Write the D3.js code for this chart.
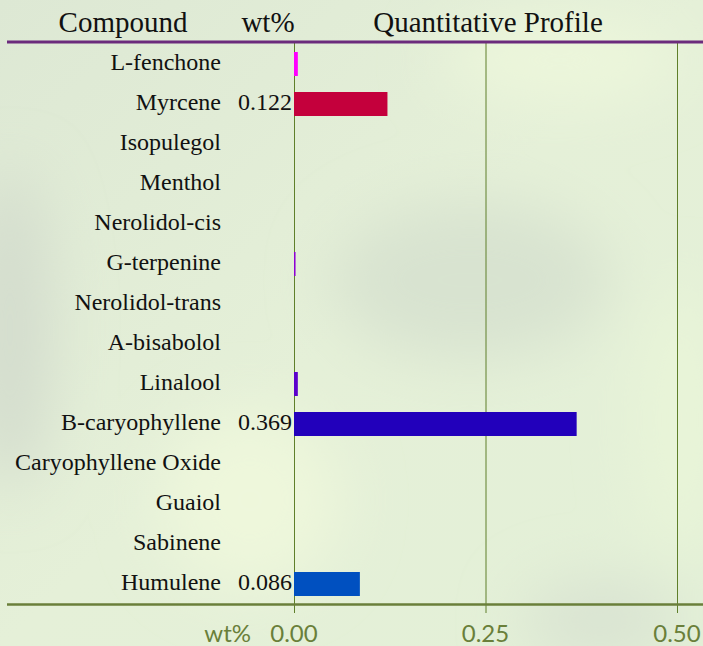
<!DOCTYPE html>
<html>
<head>
<meta charset="utf-8">
<script src="https://cdn.jsdelivr.net/npm/d3@7"></script>
<style>
  body { margin: 0; padding: 0; overflow: hidden; }
  svg { display: block; }
  .serif { font-family: "Liberation Serif", "DejaVu Serif", serif; }
</style>
</head>
<body>
<div id="chart"></div>
<script>
var compounds = ["L-fenchone", "Myrcene", "Isopulegol", "Menthol", "Nerolidol-cis", "G-terpenine",
  "Nerolidol-trans", "A-bisabolol", "Linalool", "B-caryophyllene", "Caryophyllene Oxide",
  "Guaiol", "Sabinene", "Humulene"]
var values = [0.005, 0.122, 0, 0, 0, 0.002, 0, 0, 0.005, 0.369, 0, 0, 0, 0.086]
var shownValues = ["", "0.122", "", "", "", "", "", "", "", "0.369", "", "", "", "0.086"]
var barColors = ["#ff00ff", "#c4003c", "#000", "#000", "#000", "#8e00d4", "#000", "#000",
  "#5c00cc", "#2200bb", "#000", "#000", "#000", "#0050c0"]
var ticks = [0, 0.25, 0.5]
var tickLabels = ["0.00", "0.25", "0.50"]

var width = 703, height = 646

var svg = d3.select('#chart').append('svg')
  .attr("width", width)
  .attr("height", height)

// background
var defs = svg.append("defs")
var grad = defs.append("linearGradient").attr("id", "bg")
  .attr("x1", "0").attr("y1", "0").attr("x2", "1").attr("y2", "1")
grad.append("stop").attr("offset", "0%").attr("stop-color", "#dde8d4")
grad.append("stop").attr("offset", "50%").attr("stop-color", "#e5f0d8")
grad.append("stop").attr("offset", "100%").attr("stop-color", "#e3f0d7")
defs.append("filter").attr("id", "blur")
  .attr("x", "-50%").attr("y", "-50%").attr("width", "200%").attr("height", "200%")
  .append("feGaussianBlur").attr("stdDeviation", 30)

svg.append("rect").attr("width", width).attr("height", height).attr("fill", "url(#bg)")

var blobs = svg.append("g").attr("filter", "url(#blur)")
blobs.append("ellipse").attr("cx", 10).attr("cy", 330).attr("rx", 40).attr("ry", 160).attr("fill", "#d3dccd")
blobs.append("ellipse").attr("cx", 470).attr("cy", 280).attr("rx", 140).attr("ry", 80).attr("fill", "#d8e3d0")
blobs.append("ellipse").attr("cx", 250).attr("cy", 500).attr("rx", 90).attr("ry", 90).attr("fill", "#eef7db")
blobs.append("ellipse").attr("cx", 560).attr("cy", 60).attr("rx", 120).attr("ry", 40).attr("fill", "#edf7db")
blobs.append("ellipse").attr("cx", 600).attr("cy", 620).attr("rx", 80).attr("ry", 40).attr("fill", "#d9e3d2")
blobs.append("ellipse").attr("cx", 680).attr("cy", 420).attr("rx", 40).attr("ry", 140).attr("fill", "#e9f5d8")

var x = d3.scaleLinear()
  .domain([0, 0.5])
  .range([294, 677])

var y = d3.scaleBand()
  .domain(compounds)
  .range([44, 604])
  .paddingInner(0.4)
  .paddingOuter(0.2)

// header
var header = svg.append("g")
  .attr("class", "serif")
  .style("font-size", "29px")
  .attr("fill", "#111")
header.append("text").attr("x", 123).attr("y", 32).attr("text-anchor", "middle").text("Compound")
header.append("text").attr("x", 268).attr("y", 32).attr("text-anchor", "middle").text("wt%")
header.append("text").attr("x", 488).attr("y", 32).attr("text-anchor", "middle").text("Quantitative Profile")

// grid lines
svg.append("g").selectAll("line")
  .data(ticks)
  .enter().append("line")
  .attr("x1", function (d) { return x(d) + 0.5 })
  .attr("x2", function (d) { return x(d) + 0.5 })
  .attr("y1", 43)
  .attr("y2", 613)
  .attr("stroke", "#5f7f2a")
  .attr("stroke-width", 1)

svg.append("line")
  .attr("x1", 7).attr("x2", width)
  .attr("y1", 42).attr("y2", 42)
  .attr("stroke", "#6b2b7c")
  .attr("stroke-width", 3)

svg.append("line")
  .attr("x1", 7).attr("x2", width)
  .attr("y1", 604.5).attr("y2", 604.5)
  .attr("stroke", "#6a7f3a")
  .attr("stroke-width", 2.5)

// bars
svg.append("g").selectAll("rect")
  .data(compounds)
  .enter().append("rect")
  .attr("x", x(0))
  .attr("y", function (d) { return y(d) })
  .attr("height", y.bandwidth())
  .attr("width", function (d, i) { return x(values[i]) - x(0) })
  .attr("fill", function (d, i) { return barColors[i] })

// labels
var labels = svg.append("g")
  .attr("class", "serif")
  .style("font-size", "24px")
  .attr("fill", "#111")

labels.selectAll(".name")
  .data(compounds)
  .enter().append("text")
  .attr("class", "name")
  .attr("x", 221)
  .attr("y", function (d) { return y(d) + y.bandwidth() / 2 + 6 })
  .attr("text-anchor", "end")
  .text(function (d) { return d })

labels.selectAll(".val")
  .data(compounds)
  .enter().append("text")
  .attr("class", "val")
  .attr("x", 292)
  .attr("y", function (d) { return y(d) + y.bandwidth() / 2 + 6 })
  .attr("text-anchor", "end")
  .text(function (d, i) { return shownValues[i] })

// bottom axis labels
var axisText = svg.append("g")
  .style("font-family", "Lato, 'Open Sans', sans-serif")
  .style("font-size", "24px")
  .attr("fill", "#6a7f3a")

axisText.selectAll("text")
  .data(ticks)
  .enter().append("text")
  .attr("x", function (d) { return x(d) })
  .attr("y", 642)
  .attr("text-anchor", "middle")
  .text(function (d, i) { return tickLabels[i] })

axisText.append("text")
  .attr("x", 251)
  .attr("y", 642)
  .attr("text-anchor", "end")
  .text("wt%")
</script>
</body>
</html>
